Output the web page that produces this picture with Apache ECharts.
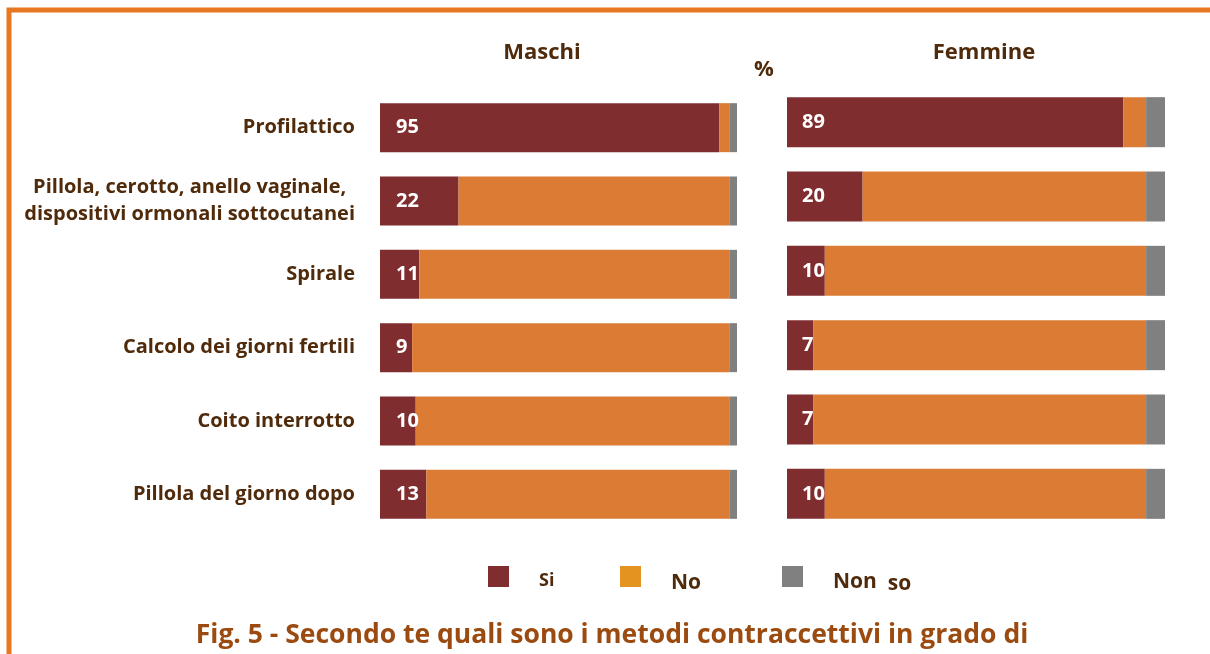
<!DOCTYPE html>
<html>
<head>
<meta charset="utf-8">
<script src="https://cdn.jsdelivr.net/npm/echarts@6/dist/echarts.min.js"></script>
<style>
  html, body { margin: 0; padding: 0; background: #fff; }
  #chart { width: 1210px; height: 654px; }
</style>
</head>
<body>
<div id="chart"></div>
<script>
// metodi contraccettivi - Maschi / Femmine (%)
const categories = [
  'Profilattico',
  'Pillola, cerotto, anello vaginale,\ndispositivi ormonali sottocutanei',
  'Spirale',
  'Calcolo dei giorni fertili',
  'Coito interrotto',
  'Pillola del giorno dopo'
]
const maschiSi = [95, 22, 11, 9, 10, 13]
const maschiNo = [3, 76, 87, 89, 88, 85]
const maschiNonSo = [2, 2, 2, 2, 2, 2]
const femmineSi = [89, 20, 10, 7, 7, 10]
const femmineNo = [6, 75, 85, 88, 88, 85]
const femmineNonSo = [5, 5, 5, 5, 5, 5]

const FONT = '"Open Sans", "Noto Sans", sans-serif'
const C_SI = '#7f2d2f'
const C_NO = '#db7b34'
const C_NS = '#808080'
const BROWN = '#4f2a0b'

let chart = echarts.init(document.getElementById('chart'))

const siLabel = (dist) => ({
  show: true,
  position: 'insideLeft',
  distance: dist,
  color: '#fff',
  fontFamily: FONT,
  fontWeight: 'bold',
  fontSize: 20
})

const legendBox = (name, left, fontSize, padTop, color, fmt) => ({
  left: left,
  top: 561,
  itemWidth: 21,
  itemHeight: 21,
  icon: 'rect',
  selectedMode: false,
  data: [{ name: name, itemStyle: { color: color } }],
  formatter: fmt,
  textStyle: {
    fontFamily: FONT,
    fontWeight: 'bold',
    fontSize: fontSize,
    color: BROWN,
    padding: [padTop, 0, 0, 25],
    rich: {
      a: { fontFamily: FONT, fontWeight: 'bold', fontSize: fontSize, color: BROWN },
      b: { fontFamily: FONT, fontWeight: 'bold', fontSize: fontSize, color: BROWN, padding: [3, 0, 0, 0] }
    }
  }
})

let option = {
  animation: false,
  textStyle: { fontFamily: FONT },
  title: [
    { text: 'Maschi', left: 537, top: 37, textAlign: 'center',
      textStyle: { fontSize: 22, fontWeight: 'bold', color: BROWN, fontFamily: FONT } },
    { text: '%', left: 759, top: 54, textAlign: 'center',
      textStyle: { fontSize: 22, fontWeight: 'bold', color: BROWN, fontFamily: FONT } },
    { text: 'Femmine', left: 979, top: 37, textAlign: 'center',
      textStyle: { fontSize: 22, fontWeight: 'bold', color: BROWN, fontFamily: FONT } },
    { text: 'Fig. 5 - Secondo te quali sono i metodi contraccettivi in grado di', left: 607, top: 617, textAlign: 'center',
      textStyle: { fontSize: 26.5, fontWeight: 'bold', color: '#9b4a10', fontFamily: FONT } }
  ],
  legend: [
    legendBox('Si', 483, 18, 8, C_SI),
    legendBox('No', 615, 21, 14, '#e39320'),
    legendBox('Non so', 777, 21, 12, C_NS, () => '{a|Non}  {b|so}')
  ],
  graphic: [
    {
      type: 'polyline',
      shape: { points: [[9, 660], [9, 10], [1215, 10]] },
      style: { stroke: '#e87722', lineWidth: 5, fill: null }
    }
  ],
  grid: [
    { left: 380, width: 357, top: 91, height: 440 },
    { left: 787, width: 378, top: 85, height: 446 }
  ],
  xAxis: [
    { type: 'value', gridIndex: 0, min: 0, max: 100, show: false },
    { type: 'value', gridIndex: 1, min: 0, max: 100, show: false }
  ],
  yAxis: [
    {
      type: 'category', gridIndex: 0, data: categories, inverse: true,
      axisLine: { show: false }, axisTick: { show: false },
      axisLabel: {
        margin: 25,
        align: 'right',
        formatter: (v) => v.split('\n').map(s => '{c|' + s + '}').join('\n'),
        rich: {
          c: { align: 'center', fontFamily: FONT, fontWeight: 'bold', fontSize: 20, color: BROWN, lineHeight: 27 }
        }
      }
    },
    {
      type: 'category', gridIndex: 1, data: categories, inverse: true, show: false
    }
  ],
  series: [
    { name: 'Si', type: 'bar', stack: 'm', xAxisIndex: 0, yAxisIndex: 0, barWidth: 49,
      itemStyle: { color: C_SI }, label: siLabel(16), data: maschiSi },
    { name: 'No', type: 'bar', stack: 'm', xAxisIndex: 0, yAxisIndex: 0, barWidth: 49,
      itemStyle: { color: C_NO }, data: maschiNo },
    { name: 'Non so', type: 'bar', stack: 'm', xAxisIndex: 0, yAxisIndex: 0, barWidth: 49,
      itemStyle: { color: C_NS }, data: maschiNonSo },
    { name: 'Si', type: 'bar', stack: 'f', xAxisIndex: 1, yAxisIndex: 1, barWidth: 50,
      itemStyle: { color: C_SI }, label: siLabel(15), data: femmineSi },
    { name: 'No', type: 'bar', stack: 'f', xAxisIndex: 1, yAxisIndex: 1, barWidth: 50,
      itemStyle: { color: C_NO }, data: femmineNo },
    { name: 'Non so', type: 'bar', stack: 'f', xAxisIndex: 1, yAxisIndex: 1, barWidth: 50,
      itemStyle: { color: C_NS }, data: femmineNonSo }
  ]
}
option && chart.setOption(option)
</script>
</body>
</html>
